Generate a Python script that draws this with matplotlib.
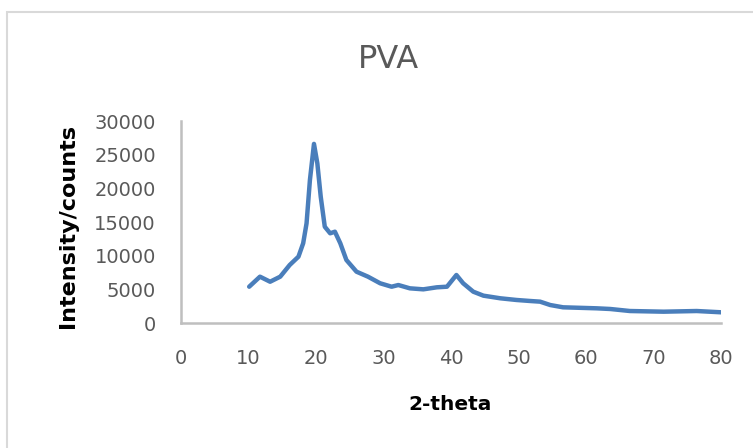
import matplotlib
matplotlib.use("Agg")
import matplotlib.pyplot as plt
from matplotlib.patches import Rectangle

# Data
two_theta = [10.1, 11.7, 13.2, 14.7, 16.1, 17.4, 18.1, 18.6, 19.1, 19.7,
             20.2, 20.7, 21.3, 22.1, 22.8, 23.6, 24.5, 26.0, 27.7, 29.5,
             31.2, 32.2, 33.9, 35.9, 37.9, 39.4, 40.8, 41.8, 43.3, 44.8,
             47.3, 49.7, 51.7, 53.2, 54.7, 56.6, 61.6, 63.6, 66.5, 71.5,
             76.4, 80.0]
intensity = [5390, 6880, 6130, 6880, 8610, 9850, 11840, 14800, 21240, 26600,
             23700, 18760, 14300, 13320, 13560, 11840, 9360, 7620, 6880, 5900,
             5390, 5640, 5150, 5000, 5300, 5390, 7130, 5900, 4650, 4060,
             3670, 3420, 3270, 3170, 2670, 2330, 2180, 2080, 1780, 1680,
             1780, 1590]

x_ticks = [0, 10, 20, 30, 40, 50, 60, 70, 80]
y_ticks = [0, 5000, 10000, 15000, 20000, 25000, 30000]

W, H = 753, 448
fig = plt.figure(figsize=(W / 100, H / 100), dpi=100)
fig.patch.set_facecolor("white")

# chart border (extends beyond the right and bottom edges)
fig.patches.append(Rectangle((7 / W, -0.2), 1.5, 0.2 + 1 - 12 / H,
                             transform=fig.transFigure, fill=False,
                             edgecolor="#D9D9D9", linewidth=1.5))

ax = fig.add_axes([181 / W, 1 - 323 / H, (721 - 181) / W, (323 - 121) / H])
ax.plot(two_theta, intensity, color="#4A7EBB", linewidth=3.2,
        solid_joinstyle="round", solid_capstyle="round")

ax.set_xlim(0, 80)
ax.set_ylim(0, 30000)
ax.set_xticks(x_ticks)
ax.set_yticks(y_ticks)
ax.set_xticklabels([str(v) for v in x_ticks])
ax.set_yticklabels([str(v) for v in y_ticks])
ax.tick_params(axis="x", length=0, labelsize=14, labelcolor="#595959", pad=19)
ax.tick_params(axis="y", length=0, labelsize=14, labelcolor="#595959", pad=18)

for s in ["top", "right"]:
    ax.spines[s].set_visible(False)
for s in ["left", "bottom"]:
    ax.spines[s].set_color("#BFBFBF")
    ax.spines[s].set_linewidth(1.8)

fig.text(388 / W, 1 - 60 / H, "PVA", ha="center", va="center",
         fontsize=23, color="#595959")
fig.text(68 / W, 1 - 226 / H, "Intensity/counts", ha="center", va="center",
         rotation=90, fontsize=16, fontweight="bold", color="black")
fig.text(450 / W, 1 - 404 / H, "2-theta", ha="center", va="center",
         fontsize=14.5, fontweight="bold", color="black")

fig.savefig("out.png", dpi=100, facecolor="white")
